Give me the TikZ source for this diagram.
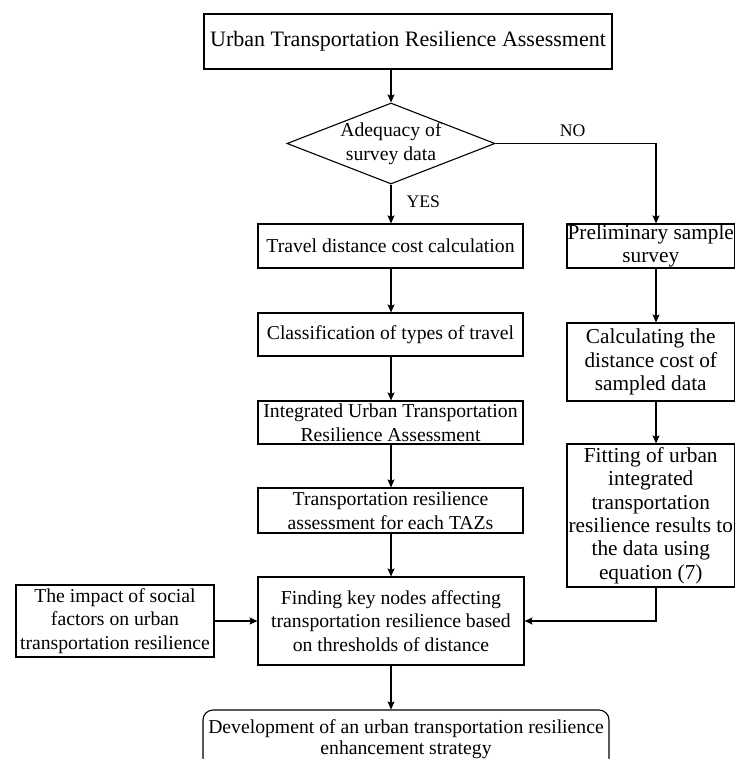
\documentclass[tikz,border=0pt]{standalone}
\usepackage{fontspec}
\setmainfont{Liberation Serif}
\usetikzlibrary{shapes.geometric,arrows.meta}
\begin{document}
\begin{tikzpicture}[x=1pt,y=-1pt,
  box/.style={draw, line width=1.1pt, inner sep=0pt, align=center, font=\fontsize{19.7}{23.6}\selectfont},
  rbox/.style={box, font=\fontsize{21.3}{23.4}\selectfont},
  conn/.style={line width=1.1pt, -{Stealth[length=8pt,width=7pt,inset=1.5pt]}},
  lbl/.style={font=\fontsize{17.7}{20}\selectfont, inner sep=0pt}]
\useasboundingbox (0,0) rectangle (735,759);
\fill[white] (0,0) rectangle (735,759);
\clip (0,0) rectangle (735,759);

% main column
\node[box, minimum width=408, minimum height=55, font=\fontsize{22}{26}\selectfont] (title) at (408,41.5) {Urban Transportation Resilience Assessment};
\node[draw, diamond, line width=1.1pt, minimum width=208, minimum height=81, inner sep=0pt] (dia) at (391,143.5) {};
\node[box, draw=none] (diatext) at (dia.center) {Adequacy of\\survey data};
\node[box, minimum width=265, minimum height=44] (travel) at (390.5,246) {Travel distance cost calculation};
\node[box, minimum width=265, minimum height=43] (class) at (390.5,334.5) {Classification of types of travel};
\node[box, minimum width=265, minimum height=43] (integ) at (390.5,422.5) {Integrated Urban Transportation\\Resilience Assessment};
\node[box, minimum width=265, minimum height=45] (taz) at (390.5,510.5) {Transportation resilience\\assessment for each TAZs};
\node[box, minimum width=266, minimum height=88] (find) at (391,621) {Finding key nodes affecting\\transportation resilience based\\on thresholds of distance};
\node[box, minimum width=198, minimum height=72] (social) at (115,621) {The impact of social\\factors on urban\\transportation resilience};
\node[box, rounded corners=10pt, minimum width=406, minimum height=58, font=\fontsize{19.7}{21.5}\selectfont] (dev) at (406,739) {Development of an urban transportation resilience\\enhancement strategy};

% right column
\coordinate (rc) at (656,0);
\node[rbox, minimum width=167.5, minimum height=44] (prelim) at (650.75,246) {Preliminary sample\\survey};
\node[rbox, minimum width=167.5, minimum height=78] (calc) at (650.75,362) {Calculating the\\distance cost of\\sampled data};
\node[rbox, minimum width=167.5, minimum height=143] (fit) at (650.75,515.5) {Fitting of urban\\integrated\\transportation\\resilience results to\\the data using\\equation (7)};

% connectors
\draw[conn] (title.south -| dia.north) -- (dia.north);
\draw[conn] (dia.south) -- (travel.north -| dia.south) node[lbl, pos=0.45, right=15pt] (yes) {YES};
\draw[conn] (dia.east) -- (dia.east -| rc) node[lbl, pos=0.48, above=6pt] (no) {NO} -- (prelim.north -| rc);
\draw[conn] (travel.south -| dia.south) -- (class.north -| dia.south);
\draw[conn] (class.south -| dia.south) -- (integ.north -| dia.south);
\draw[conn] (integ.south -| dia.south) -- (taz.north -| dia.south);
\draw[conn] (taz.south -| dia.south) -- (find.north -| dia.south);
\draw[conn] (find.south -| dia.south) -- (dev.north -| dia.south);
\draw[conn] (prelim.south -| rc) -- (calc.north -| rc);
\draw[conn] (calc.south -| rc) -- (fit.north -| rc);
\draw[conn] (fit.south -| rc) -- (find.east -| rc) -- (find.east);
\draw[conn] (social.east) -- (find.west);
\end{tikzpicture}
\end{document}
